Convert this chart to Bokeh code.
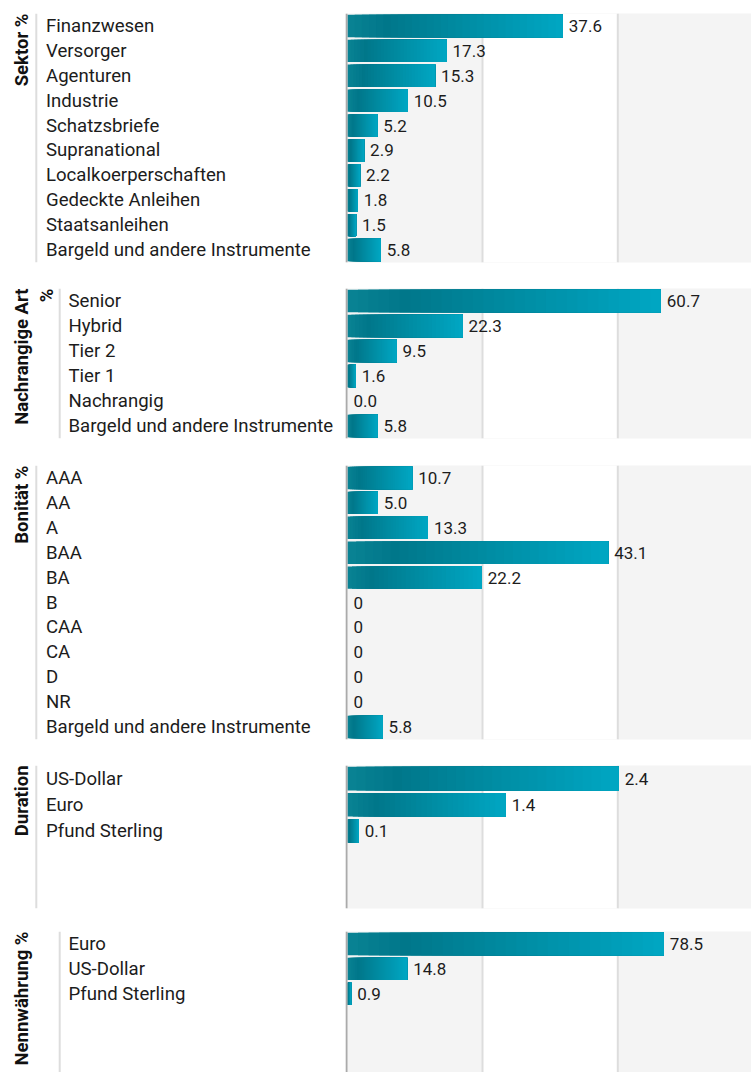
import numpy as np
from bokeh.plotting import figure
from bokeh.layouts import column, row
from bokeh.models import ColumnDataSource, Range1d, BoxAnnotation, Span
from bokeh.core.properties import value
from bokeh.embed import file_html
from bokeh.resources import INLINE

# ---------------- data ----------------
sektor_title = "Sektor %"
sektor_cats = ["Finanzwesen", "Versorger", "Agenturen", "Industrie", "Schatzsbriefe",
               "Supranational", "Localkoerperschaften", "Gedeckte Anleihen",
               "Staatsanleihen", "Bargeld und andere Instrumente"]
sektor_vals = [37.6, 17.3, 15.3, 10.5, 5.2, 2.9, 2.2, 1.8, 1.5, 5.8]
sektor_text = ["37.6", "17.3", "15.3", "10.5", "5.2", "2.9", "2.2", "1.8", "1.5", "5.8"]

rang_title = "Nachrangige Art\n%"
rang_cats = ["Senior", "Hybrid", "Tier 2", "Tier 1", "Nachrangig",
             "Bargeld und andere Instrumente"]
rang_vals = [60.7, 22.3, 9.5, 1.6, 0.0, 5.8]
rang_text = ["60.7", "22.3", "9.5", "1.6", "0.0", "5.8"]

bon_title = "Bonität %"
bon_cats = ["AAA", "AA", "A", "BAA", "BA", "B", "CAA", "CA", "D", "NR",
            "Bargeld und andere Instrumente"]
bon_vals = [10.7, 5.0, 13.3, 43.1, 22.2, 0, 0, 0, 0, 0, 5.8]
bon_text = ["10.7", "5.0", "13.3", "43.1", "22.2", "0", "0", "0", "0", "0", "5.8"]

dur_title = "Duration"
dur_cats = ["US-Dollar", "Euro", "Pfund Sterling"]
dur_vals = [2.4, 1.4, 0.1]
dur_text = ["2.4", "1.4", "0.1"]

cur_title = "Nennwährung %"
cur_cats = ["Euro", "US-Dollar", "Pfund Sterling"]
cur_vals = [78.5, 14.8, 0.9]
cur_text = ["78.5", "14.8", "0.9"]

# ---------------- style ----------------
FONT = "Roboto"
TEXT_COLOR = "#1c1c1c"
BAND_GRAY = "#f4f4f4"
GRID_COLOR = "#dddddd"
AXIS_COLOR = "#aaaaaa"
LEFT_W = 345
RIGHT_W = 406
STOPS = [(0.0, (0x0a, 0x83, 0x94)), (0.18, (0x00, 0x77, 0x8a)), (1.0, (0x00, 0xa7, 0xc3))]
K = 30


def grad(t):
    for (t0, c0), (t1, c1) in zip(STOPS, STOPS[1:]):
        if t <= t1:
            f = (t - t0) / (t1 - t0)
            return "#%02x%02x%02x" % tuple(int(round(a + (b - a) * f)) for a, b in zip(c0, c1))
    return "#%02x%02x%02x" % STOPS[-1][1]


def panel(title, cats, vals, texts, xmax, extent, frame_h, top, bottom, indent):
    h = top + frame_h + bottom
    yr = Range1d(extent, 0)
    common = dict(height=h, y_range=yr, x_axis_location=None, y_axis_location=None,
                  toolbar_location=None, output_backend="svg", min_border_left=0,
                  min_border_right=0, min_border_top=top, min_border_bottom=bottom,
                  outline_line_color=None, border_fill_color="white")

    # ---- left: title + category labels
    left = figure(width=LEFT_W, x_range=Range1d(0, LEFT_W), background_fill_color="white", **common)
    left.grid.visible = False
    lines = title.split("\n")
    left.text(x=[21.5 + 25 * k for k in range(len(lines))], y=[0] * len(lines), text=lines,
              angle=np.pi / 2, text_align="right", text_baseline="alphabetic",
              text_font=value(FONT), text_font_style="bold", text_font_size="18.5px",
              text_color="#111111")
    line_x = 59.2 if indent else 35.8
    left.add_layout(Span(location=line_x, dimension="height", line_color=GRID_COLOR, line_width=2))
    lab_x = 68 if indent else 45.5
    ys = [i + 0.5 for i in range(len(cats))]
    left.text(x=[lab_x] * len(cats), y=ys, text=cats, text_align="left", text_baseline="middle",
              text_font=value(FONT), text_font_size="18.6px", text_color=TEXT_COLOR)

    # ---- right: bars
    start = -xmax * 2 / (RIGHT_W - 2)
    right = figure(width=RIGHT_W, x_range=Range1d(start, xmax), background_fill_color=BAND_GRAY, **common)
    right.grid.visible = False
    span_w = xmax - start
    b1 = start + span_w * 137 / RIGHT_W
    b2 = start + span_w * 272.3 / RIGHT_W
    right.add_layout(BoxAnnotation(left=b1, right=b2, fill_color="white", fill_alpha=1,
                                   line_color=None, level="underlay"))
    for b in (b1, b2):
        right.add_layout(Span(location=b, dimension="height", line_color=GRID_COLOR,
                              line_width=2, level="underlay"))
    right.add_layout(Span(location=start / 2, dimension="height", line_color=AXIS_COLOR, line_width=2))

    L, R, T, B, C = [], [], [], [], []
    for i, v in enumerate(vals):
        if v <= 0:
            continue
        for j in range(K):
            L.append(v * j / K)
            R.append(v)
            T.append(i + 0.05)
            B.append(i + 0.95)
            C.append(grad((j + 0.5) / K))
    right.quad(left="l", right="r", top="t", bottom="b", fill_color="c", line_color=None,
               source=ColumnDataSource(dict(l=L, r=R, t=T, b=B, c=C)))
    right.text(x=vals, y=ys, text=texts, x_offset=6, text_align="left", text_baseline="middle",
               text_font=value(FONT), text_font_size="17px", text_color=TEXT_COLOR)
    return row(left, right, spacing=0)


panels = [
    panel(sektor_title, sektor_cats, sektor_vals, sektor_text, 70.55, 10, 249, 13, 26, False),
    panel(rang_title, rang_cats, rang_vals, rang_text, 78.27, 6, 150, 0, 27, True),
    panel(bon_title, bon_cats, bon_vals, bon_text, 66.78, 11, 274, 0, 26, False),
    panel(dur_title, dur_cats, dur_vals, dur_text, 3.575, 5.46, 143, 0, 23, False),
    panel(cur_title, cur_cats, cur_vals, cur_text, 100.25, 5.66, 141, 0, 0, True),
]

layout = column(*panels, spacing=0)
open("out.html", "w").write(file_html(layout, INLINE))
